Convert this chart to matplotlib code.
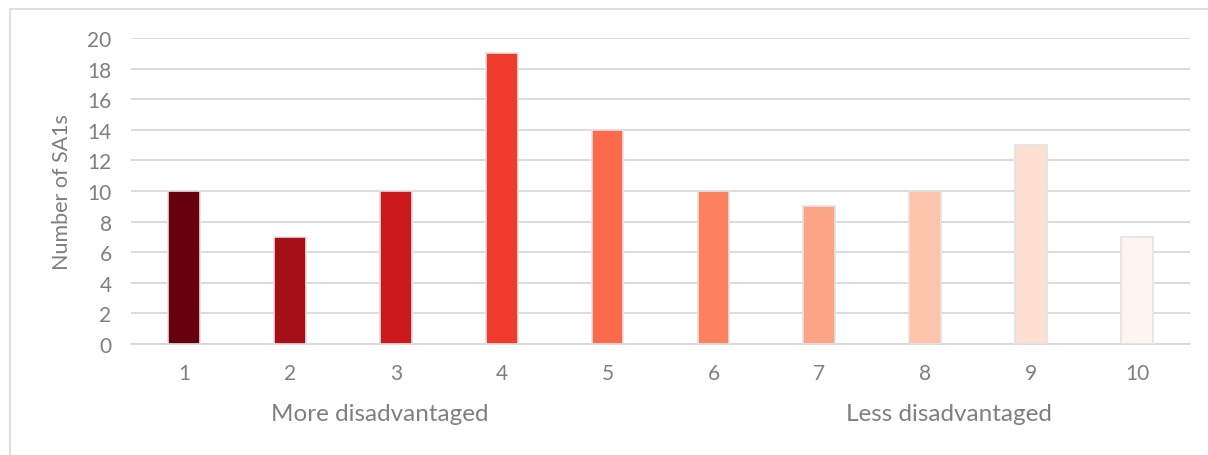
import matplotlib.pyplot as plt
from matplotlib.patches import Rectangle

deciles = [1, 2, 3, 4, 5, 6, 7, 8, 9, 10]
counts = [10, 7, 10, 19, 14, 10, 9, 10, 13, 7]
bar_colors = ['#67000d', '#a50f15', '#cb181d', '#ef3b2c', '#fb6a4a',
              '#fc8161', '#fca486', '#fcc4ab', '#fee0d2', '#fff5f0']
y_label = 'Number of SA1s'
group_labels = ['More disadvantaged', 'Less disadvantaged']
group_pos = [2.85, 8.22]

plt.rcParams['font.family'] = ['Lato', 'DejaVu Sans']
grey = '#7f7f7f'

fig = plt.figure(figsize=(12.08, 4.56), dpi=100)
# chart area border
fig.patches.append(Rectangle((10 / 1208, -0.1), 1.2, 1 - 10 / 456 + 0.1,
                             transform=fig.transFigure, fill=False,
                             edgecolor='#d9d9d9', linewidth=1.2))

ax = fig.add_axes([131 / 1208, 1 - 345 / 456, 1059 / 1208, 306 / 456])
ax.bar(deciles, counts, width=0.3, color=bar_colors,
       edgecolor='#e3e3e3', linewidth=1.2, zorder=3)

ax.set_xlim(0.5, 10.5)
ax.set_ylim(0, 20)
ax.set_yticks(range(0, 21, 2))
ax.set_xticks(deciles)
ax.grid(axis='y', color='#d9d9d9', linewidth=1.3, zorder=0)
for s in ['top', 'right', 'left']:
    ax.spines[s].set_visible(False)
ax.spines['bottom'].set_color('#d9d9d9')
ax.spines['bottom'].set_linewidth(1.3)
ax.tick_params(length=0, labelsize=15, labelcolor=grey)
ax.tick_params(axis='x', pad=14)
ax.tick_params(axis='y', pad=14)
ax.set_ylabel(y_label, fontsize=15.5, color=grey, labelpad=11)

for lab, xp in zip(group_labels, group_pos):
    ax.text(xp, -0.228, lab, transform=ax.get_xaxis_transform(),
            ha='center', va='center', fontsize=17.5, color=grey)

fig.savefig('out.png', dpi=100)
